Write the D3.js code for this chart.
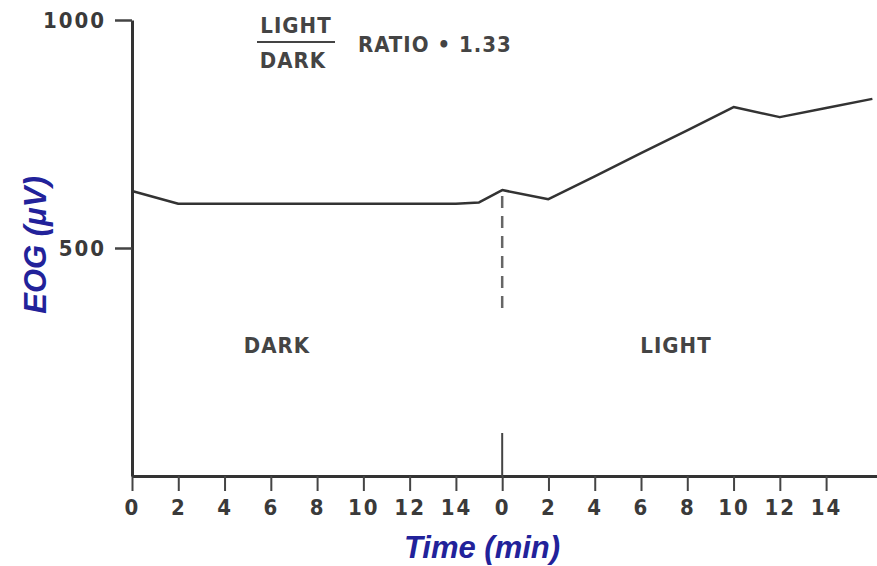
<!DOCTYPE html>
<html>
<head>
<meta charset="utf-8">
<script src="https://cdn.jsdelivr.net/npm/d3@7"></script>
<style>
  html, body { margin: 0; padding: 0; background: #fff; }
  svg { display: block; }
  .tick text { font-family: "DejaVu Sans Condensed", "DejaVu Sans", sans-serif; font-weight: bold; fill: #3a3a3a; letter-spacing: 2px; }
  .axis-title { font-family: "Liberation Sans", Arial, sans-serif; font-weight: bold; font-style: italic; fill: #22229a; }
  .note { font-family: "DejaVu Sans Condensed", "DejaVu Sans", sans-serif; font-weight: bold; fill: #444; letter-spacing: 1px; }
</style>
</head>
<body>
<script>
// Duree de la phase d'obscurite (min) : la phase lumineuse commence ensuite
const darkDuration = 16;

// Phase sombre
const darkTimes = [0, 2, 4, 6, 8, 10, 12, 14, 15];
const darkEog = [625, 597, 597, 597, 597, 597, 597, 597, 600];

// Phase lumineuse
const lightTimes = [0, 2, 4, 6, 8, 10, 12, 14, 16];
const lightEog = [627, 607, 657, 708, 758, 809, 787, 807, 827];

// Graduations
const minuteTicks = [0, 2, 4, 6, 8, 10, 12, 14];
const eogTicks = [500, 1000];

const ratioText = "RATIO \u2022 1.33";

const width = 877;
const height = 566;
const margin = { left: 132, right: 0, top: 20, bottom: 90 };

const svg = d3.select("body")
    .append("svg")
    .attr("width", width)
    .attr("height", height);

const x = d3.scaleLinear()
    .domain([0, 32.2])
    .range([margin.left, width - margin.right]);

const y = d3.scaleLinear()
    .domain([0, 1000])
    .range([height - margin.bottom, margin.top]);

// Points en minutes continues
const points = darkTimes.map((t, i) => ({ t: t, v: darkEog[i] }))
    .concat(lightTimes.map((t, i) => ({ t: t + darkDuration, v: lightEog[i] })));

// Axe des x
const xTicks = minuteTicks.concat(minuteTicks.map(t => t + darkDuration));
const xAxis = svg.append("g")
    .attr("transform", `translate(0,${y(0)})`)
    .call(d3.axisBottom(x)
        .tickValues(xTicks)
        .tickFormat(d => d % darkDuration)
        .tickSize(15)
        .tickSizeOuter(0)
        .tickPadding(8));
xAxis.select(".domain").attr("stroke", "#333").attr("stroke-width", 3);
xAxis.selectAll(".tick line").attr("stroke", "#444").attr("stroke-width", 2);
xAxis.selectAll(".tick text").style("font-size", "22px");

// Axe des y
const yAxis = svg.append("g")
    .attr("transform", `translate(${x(0)},0)`)
    .call(d3.axisLeft(y)
        .tickValues(eogTicks)
        .tickFormat(d3.format("d"))
        .tickSize(17)
        .tickSizeOuter(0)
        .tickPadding(9));
yAxis.select(".domain").attr("stroke", "#333").attr("stroke-width", 3);
yAxis.selectAll(".tick line").attr("stroke", "#444").attr("stroke-width", 2.5);
yAxis.selectAll(".tick text").style("font-size", "22px");

// Separation sombre / lumiere sur l'axe
svg.append("line")
    .attr("x1", x(darkDuration)).attr("x2", x(darkDuration))
    .attr("y1", y(0)).attr("y2", y(0) - 43)
    .attr("stroke", "#444")
    .attr("stroke-width", 2);

// Ligne pointillee sous le debut de la lumiere
svg.append("line")
    .attr("x1", x(darkDuration)).attr("x2", x(darkDuration))
    .attr("y1", y(lightEog[0]) + 6).attr("y2", y(365))
    .attr("stroke", "#666")
    .attr("stroke-width", 2.5)
    .attr("stroke-dasharray", "12,8");

// Courbe EOG
const line = d3.line()
    .x(d => x(d.t))
    .y(d => y(d.v));

svg.append("path")
    .datum(points)
    .attr("d", line)
    .attr("fill", "none")
    .attr("stroke", "#333")
    .attr("stroke-width", 2.5)
    .attr("stroke-linejoin", "round");

// Etiquettes des phases
svg.append("text")
    .attr("class", "note")
    .attr("x", 277).attr("y", 353)
    .attr("text-anchor", "middle")
    .style("font-size", "22px")
    .text("DARK");

svg.append("text")
    .attr("class", "note")
    .attr("x", 676).attr("y", 353)
    .attr("text-anchor", "middle")
    .style("font-size", "22px")
    .text("LIGHT");

// Rapport lumiere / obscurite
svg.append("text")
    .attr("class", "note")
    .attr("x", 296).attr("y", 33)
    .attr("text-anchor", "middle")
    .style("font-size", "22px")
    .text("LIGHT");
svg.append("line")
    .attr("x1", 257).attr("x2", 335)
    .attr("y1", 42).attr("y2", 42)
    .attr("stroke", "#444")
    .attr("stroke-width", 2);
svg.append("text")
    .attr("class", "note")
    .attr("x", 293).attr("y", 68)
    .attr("text-anchor", "middle")
    .style("font-size", "22px")
    .text("DARK");
svg.append("text")
    .attr("class", "note")
    .attr("x", 358).attr("y", 52)
    .style("font-size", "22px")
    .text(ratioText);

// Titres des axes
svg.append("text")
    .attr("class", "axis-title")
    .attr("x", 482).attr("y", 558)
    .attr("text-anchor", "middle")
    .style("font-size", "31px")
    .text("Time (min)");

svg.append("text")
    .attr("class", "axis-title")
    .attr("transform", "translate(46,245) rotate(-90)")
    .attr("text-anchor", "middle")
    .style("font-size", "31px")
    .text("EOG (\u03bcV)");
</script>
</body>
</html>
